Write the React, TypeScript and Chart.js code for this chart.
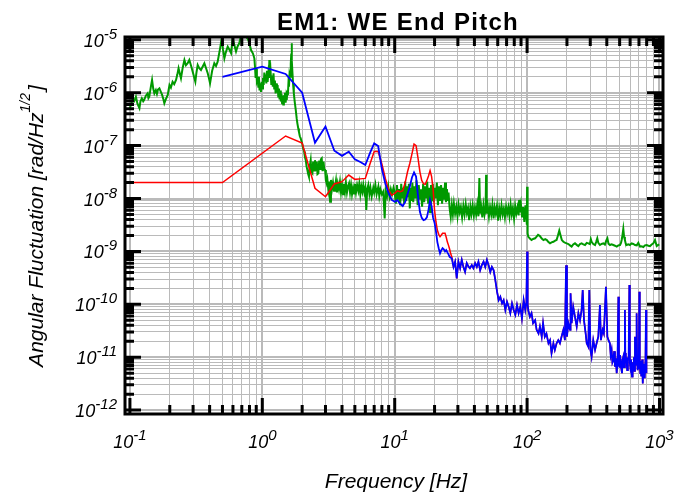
import { useEffect, useRef } from 'react';
import { Chart, registerables } from 'chart.js';

Chart.register(...registerables);

type Pt = [number, number]; // [frequency Hz, amplitude rad/√Hz]

// Blue trace, 0.5 Hz bins up to ~27 Hz
const blueLow: Pt[] = [
  [0.5, 2.0e-6], [1.0, 3.1e-6], [1.5, 2.26e-6], [2.0, 1.0e-6], [2.5, 1.13e-7], [3.0, 2.3e-7],
  [3.5, 8.0e-8], [4.0, 6.4e-8], [4.5, 7.7e-8], [5.0, 5.5e-8], [5.5, 4.9e-8], [6.0, 4.3e-8],
  [6.5, 7.2e-8], [7.0, 1.1e-7], [7.5, 9.8e-8], [8.0, 3.6e-8], [8.5, 1.9e-8], [9.0, 1.25e-8],
  [9.5, 9.4e-9], [10.0, 8.7e-9], [10.5, 9.3e-9], [11.0, 7.9e-9], [11.5, 7.2e-9], [12.0, 8.6e-9],
  [12.5, 1.2e-8], [13.0, 1.67e-8], [13.5, 2.5e-8], [14.0, 3.1e-8], [14.5, 2.6e-8], [15.0, 1.1e-8],
  [15.5, 5.6e-9], [16.0, 4.3e-9], [16.5, 3.9e-9], [17.0, 4.0e-9], [17.5, 4.4e-9], [18.0, 6.1e-9],
  [18.5, 9.4e-9], [19.0, 7.2e-9], [19.5, 4.3e-9], [20.0, 3.5e-9], [20.5, 2.4e-9], [21.0, 1.5e-9],
  [21.5, 1.15e-9], [22.0, 9.2e-10], [22.5, 1.06e-9], [23.0, 1.15e-9], [23.5, 1.1e-9], [24.0, 1.0e-9],
  [24.5, 1.06e-9], [25.0, 9.6e-10], [25.5, 8.8e-10], [26.0, 7.9e-10], [26.5, 7.6e-10], [27.0, 7.4e-10],
];

// Red trace, same bins, below ~27 Hz
const redLow: Pt[] = [
  [0.1, 2.0e-8], [0.5, 2.0e-8], [1.5, 1.52e-7], [2.0, 1.12e-7], [2.5, 1.56e-8], [3.0, 1.08e-8],
  [3.5, 1.88e-8], [4.0, 2.08e-8], [4.5, 2.78e-8], [5.0, 2.3e-8], [5.5, 2.35e-8], [6.0, 2.4e-8],
  [6.5, 4.5e-8], [7.0, 7.7e-8], [7.5, 7.7e-8], [8.0, 4.5e-8], [8.5, 2.4e-8], [9.0, 1.45e-8],
  [9.5, 1.15e-8], [10.0, 1.25e-8], [10.5, 1.4e-8], [11.0, 1.35e-8], [11.5, 1.4e-8], [12.0, 2.0e-8],
  [12.5, 3.2e-8], [13.0, 4.6e-8], [13.5, 7.0e-8], [14.0, 1.07e-7], [14.5, 1.0e-7], [15.0, 5.8e-8],
  [15.5, 3.2e-8], [16.0, 2.2e-8], [16.5, 1.9e-8], [17.0, 1.85e-8], [17.5, 2.2e-8], [18.0, 2.66e-8],
  [18.5, 3.36e-8], [19.0, 2.6e-8], [19.5, 1.5e-8], [20.0, 6.0e-9], [20.5, 3.6e-9], [21.0, 2.5e-9],
  [21.5, 2.1e-9], [22.0, 1.9e-9], [22.5, 2.04e-9], [23.0, 2.2e-9], [23.5, 2.2e-9], [24.0, 2.2e-9],
  [24.5, 1.85e-9], [25.0, 1.5e-9], [25.5, 1.3e-9], [26.0, 1.1e-9], [26.5, 9.0e-10], [27.0, 7.9e-10],
];

// Above ~28 Hz the red and blue traces coincide
const tailBoth: Pt[] = [
  [27.8, 5.1e-10], [28.6, 6.4e-10], [29.4, 3.1e-10], [30.3, 6.4e-10], [31.2, 4.8e-10], [32.1, 6.9e-10],
  [33.0, 5.1e-10], [34.0, 4.1e-10], [35.0, 6.0e-10], [36.0, 5.2e-10], [37.0, 4.8e-10], [38.2, 5.5e-10],
  [39.3, 4.8e-10], [40.5, 6.0e-10], [41.7, 5.1e-10], [42.9, 6.4e-10], [44.2, 4.4e-10], [45.5, 5.5e-10],
  [46.9, 6.4e-10], [48.3, 5.1e-10], [49.7, 6.9e-10], [51.2, 5.5e-10], [52.7, 4.1e-10], [54.2, 5.1e-10],
  [55.9, 4.4e-10], [57.5, 2.9e-10], [59.3, 1.73e-10], [61.0, 1.2e-10], [62.8, 1.39e-10], [64.7, 1.04e-10],
  [66.5, 1.2e-10], [68.5, 7.8e-11], [70.5, 1.12e-10], [72.6, 9.0e-11], [74.7, 6.8e-11], [76.9, 1.04e-10],
  [79.2, 7.8e-11], [81.5, 6.3e-11], [83.9, 9.7e-11], [86.3, 6.8e-11], [88.9, 9.0e-11], [91.4, 5.4e-11],
  [94.2, 1.2e-10], [96.9, 7.8e-11], [98.8, 1.1e-10], [100, 1.0e-9], [101, 1.0e-10], [102, 7.8e-11],
  [105, 5.8e-11], [108, 6.8e-11], [111, 4.4e-11], [115, 5.0e-11], [118, 3.3e-11], [122, 2.8e-11],
  [125, 3.8e-11], [129, 2.44e-11], [132, 4.4e-11], [136, 2.44e-11], [140, 2.8e-11], [145, 1.83e-11],
  [149, 2.1e-11], [153, 1.19e-11], [158, 1.83e-11], [162, 1.37e-11], [167, 1.83e-11], [172, 2.1e-11],
  [177, 1.83e-11], [182, 2.44e-11], [188, 3.3e-11], [193, 2.1e-11], [197, 5.5e-10], [200, 2.44e-11],
  [205, 4.4e-11], [211, 3.3e-11], [213, 1.61e-10], [217, 4.4e-11], [223, 9.0e-11], [230, 5.8e-11],
  [237, 3.8e-11], [244, 6.8e-11], [251, 5.0e-11], [258, 7.8e-11], [263, 1.86e-10], [269, 5.0e-11],
  [277, 2.8e-11], [282, 1.83e-11], [290, 1.58e-11], [295, 1.86e-10], [301, 1.37e-11], [307, 1.02e-11],
  [316, 2.1e-11], [326, 1.37e-11], [335, 1.83e-11], [345, 2.44e-11], [355, 9.7e-11], [361, 2.1e-11],
  [372, 3.3e-11], [380, 2.8e-11], [394, 2.15e-10], [404, 2.44e-11], [412, 2.1e-11], [422, 1.83e-11],
  [428, 1.1e-11], [435, 1.37e-11], [441, 8.0e-12], [448, 8.9e-12], [455, 1.3e-11], [461, 6.6e-12],
  [468, 9.5e-12], [475, 5.0e-12], [482, 8.0e-12], [489, 1.39e-10], [494, 7.0e-12], [498, 6.6e-12],
  [503, 1.1e-11], [509, 8.9e-12], [515, 6.0e-12], [521, 5.0e-12], [527, 9.0e-12], [533, 1.02e-11],
  [540, 6.5e-12], [548, 7.8e-11], [552, 1.2e-11], [557, 7.7e-12], [563, 1.0e-11], [570, 5.7e-12],
  [577, 8.5e-12], [585, 1.02e-11], [592, 2.32e-10], [597, 8.0e-12], [602, 6.6e-12], [610, 9.0e-12],
  [620, 4.3e-12], [627, 8.0e-12], [634, 6.6e-12], [641, 1.0e-11], [647, 5.5e-12], [653, 2.44e-11],
  [659, 7.0e-12], [665, 1.19e-11], [672, 6.8e-11], [678, 8.0e-12], [684, 5.7e-12], [692, 9.0e-12],
  [698, 6.0e-12], [704, 1.73e-10], [710, 7.0e-12], [716, 5.0e-12], [722, 8.5e-12], [728, 4.5e-12],
  [733, 6.6e-12], [740, 9.0e-12], [745, 5.0e-12], [750, 3.2e-12], [757, 7.5e-12], [765, 5.7e-12],
  [771, 4.0e-12], [777, 4.3e-12], [784, 9.0e-12], [791, 7.8e-11], [795, 6.0e-12], [800, 5.0e-12],
];

// Green trace, 0.1 – 1.75 Hz
const greenLow: Pt[] = [
  [0.100, 5.1e-7], [0.103, 6.5e-7], [0.105, 7.8e-7], [0.108, 7.0e-7], [0.111, 8.4e-7], [0.114, 6.2e-7],
  [0.118, 5.1e-7], [0.120, 6.8e-7], [0.123, 7.8e-7], [0.126, 6.9e-7], [0.128, 7.3e-7], [0.132, 8.8e-7],
  [0.136, 9.7e-7], [0.138, 7.9e-7], [0.140, 8.4e-7], [0.144, 1.3e-6], [0.147, 1.74e-6], [0.150, 1.2e-6],
  [0.153, 9.7e-7], [0.157, 1.12e-6], [0.160, 9.5e-7], [0.163, 1.15e-6], [0.167, 1.21e-6], [0.171, 1.05e-6],
  [0.175, 9.1e-7], [0.179, 7.5e-7], [0.182, 6.3e-7], [0.187, 7.6e-7], [0.193, 9.1e-7], [0.199, 1.4e-6],
  [0.204, 1.25e-6], [0.210, 1.61e-6], [0.216, 1.45e-6], [0.223, 1.74e-6], [0.228, 2.2e-6], [0.233, 2.89e-6],
  [0.238, 2.3e-6], [0.243, 1.87e-6], [0.250, 2.9e-6], [0.258, 4.15e-6], [0.265, 3.3e-6], [0.273, 3.6e-6],
  [0.281, 4.15e-6], [0.290, 3.2e-6], [0.298, 2.5e-6], [0.305, 2.0e-6], [0.312, 1.61e-6], [0.318, 2.4e-6],
  [0.325, 3.34e-6], [0.334, 2.9e-6], [0.344, 2.69e-6], [0.354, 3.1e-6], [0.365, 3.6e-6], [0.376, 2.9e-6],
  [0.387, 2.33e-6], [0.395, 1.9e-6], [0.403, 1.51e-6], [0.418, 2.6e-6], [0.434, 3.6e-6], [0.447, 3.2e-6],
  [0.460, 3.86e-6], [0.470, 5.2e-6], [0.480, 6.9e-6], [0.493, 1.05e-5], [0.505, 6.5e-6], [0.517, 4.47e-6],
  [0.530, 5.8e-6], [0.548, 7.4e-6], [0.565, 6.5e-6], [0.581, 5.6e-6], [0.597, 1.05e-5], [0.615, 8.0e-6],
  [0.633, 6.0e-6], [0.650, 7.5e-6], [0.670, 8.6e-6], [0.690, 1.2e-5], [0.720, 1.3e-5], [0.750, 1.15e-5],
  [0.776, 1.05e-5], [0.800, 8.5e-6], [0.822, 6.4e-6], [0.850, 5.5e-6], [0.871, 4.47e-6], [0.881, 3.0e-6],
  [0.890, 1.9e-6], [0.900, 2.8e-6], [0.910, 1.6e-6], [0.923, 1.74e-6], [0.933, 1.3e-6], [0.943, 2.0e-6],
  [0.953, 1.1e-6], [0.965, 1.5e-6], [0.977, 1.04e-6], [0.989, 1.6e-6], [1.000, 1.2e-6], [1.012, 1.9e-6],
  [1.024, 1.4e-6], [1.036, 2.4e-6], [1.048, 1.7e-6], [1.060, 2.2e-6], [1.072, 1.5e-6], [1.085, 2.6e-6],
  [1.097, 1.6e-6], [1.110, 2.3e-6], [1.122, 1.9e-6], [1.130, 4.15e-6], [1.140, 2.0e-6], [1.155, 2.5e-6],
  [1.170, 1.4e-6], [1.185, 2.1e-6], [1.200, 1.3e-6], [1.215, 2.33e-6], [1.230, 1.2e-6], [1.245, 1.7e-6],
  [1.260, 9.7e-7], [1.275, 1.5e-6], [1.290, 1.0e-6], [1.305, 1.4e-6], [1.320, 8.5e-7], [1.335, 1.2e-6],
  [1.350, 7.5e-7], [1.365, 1.1e-6], [1.380, 6.8e-7], [1.395, 9.5e-7], [1.410, 6.3e-7], [1.425, 8.8e-7],
  [1.440, 6.0e-7], [1.455, 9.0e-7], [1.470, 7.0e-7], [1.485, 1.0e-6], [1.500, 6.5e-7], [1.515, 8.5e-7],
  [1.530, 7.3e-7], [1.545, 1.1e-6], [1.560, 9.0e-7], [1.575, 1.51e-6], [1.590, 1.3e-6], [1.605, 2.2e-6],
  [1.620, 2.0e-6], [1.640, 3.5e-6], [1.655, 5.5e-6], [1.665, 8.6e-6], [1.675, 4.0e-6], [1.690, 2.33e-6],
  [1.710, 1.4e-6], [1.730, 9.7e-7],
];

// Green trace, 1.75 – 10 Hz
const greenMid: Pt[] = [
  [1.76, 6.5e-7], [1.79, 4.7e-7], [1.82, 3.2e-7], [1.84, 2.64e-7], [1.87, 2.1e-7], [1.89, 1.83e-7],
  [1.92, 1.5e-7], [1.95, 1.37e-7], [1.98, 1.2e-7], [2.00, 1.1e-7], [2.03, 9.0e-8], [2.07, 7.7e-8],
  [2.10, 6.0e-8], [2.13, 5.3e-8], [2.16, 4.0e-8], [2.19, 3.46e-8], [2.22, 2.9e-8], [2.25, 2.58e-8],
  [2.28, 4.0e-8], [2.32, 5.3e-8], [2.35, 3.2e-8], [2.39, 3.0e-8], [2.42, 5.0e-8], [2.46, 3.4e-8],
  [2.50, 5.3e-8], [2.54, 3.3e-8], [2.58, 5.0e-8], [2.61, 2.9e-8], [2.65, 3.0e-8], [2.69, 5.2e-8],
  [2.73, 3.6e-8], [2.77, 5.5e-8], [2.81, 5.75e-8], [2.85, 3.3e-8], [2.90, 5.0e-8], [2.94, 3.5e-8],
  [2.98, 3.46e-8], [3.02, 2.2e-8], [3.06, 1.94e-8], [3.10, 2.3e-8], [3.15, 1.5e-8], [3.20, 2.1e-8],
  [3.25, 8.7e-9], [3.30, 2.24e-8], [3.36, 1.5e-8], [3.42, 2.0e-8], [3.48, 1.4e-8], [3.54, 1.67e-8],
  [3.60, 2.2e-8], [3.66, 1.3e-8], [3.72, 1.9e-8], [3.79, 1.5e-8], [3.86, 2.08e-8], [3.93, 1.3e-8],
  [4.00, 1.8e-8], [4.07, 1.2e-8], [4.14, 1.9e-8], [4.21, 1.35e-8], [4.28, 2.0e-8], [4.36, 1.3e-8],
  [4.44, 1.7e-8], [4.52, 1.94e-8], [4.60, 1.3e-8], [4.68, 1.8e-8], [4.76, 1.2e-8], [4.85, 1.6e-8],
  [4.93, 1.25e-8], [5.01, 1.9e-8], [5.10, 1.3e-8], [5.20, 1.8e-8], [5.31, 1.4e-8], [5.40, 1.9e-8],
  [5.50, 1.2e-8], [5.60, 1.7e-8], [5.70, 1.35e-8], [5.79, 1.8e-8], [5.90, 1.3e-8], [6.00, 1.6e-8],
  [6.10, 6.1e-9], [6.20, 1.5e-8], [6.32, 1.8e-8], [6.44, 1.2e-8], [6.56, 1.6e-8], [6.70, 1.1e-8],
  [6.89, 1.6e-8], [7.00, 1.3e-8], [7.15, 1.8e-8], [7.30, 1.2e-8], [7.52, 1.67e-8], [7.65, 1.1e-8],
  [7.80, 1.5e-8], [8.00, 1.2e-8], [8.20, 1.35e-8], [8.40, 4.2e-9], [8.55, 1.4e-8], [8.75, 1.1e-8],
  [8.95, 1.67e-8], [9.15, 1.1e-8], [9.35, 1.5e-8], [9.55, 1.2e-8], [9.80, 1.6e-8], [10.0, 1.3e-8],
];

// Green trace, 10 – 101 Hz (noise floor band)
const greenBand: Pt[] = [
  [10.2, 8.0e-9], [10.4, 1.8e-8], [10.6, 9.5e-9], [10.8, 1.5e-8], [11.0, 7.5e-9], [11.2, 1.9e-8],
  [11.4, 1.0e-8], [11.6, 1.6e-8], [11.8, 8.0e-9], [12.0, 2.1e-8], [12.2, 9.0e-9], [12.4, 1.7e-8],
  [12.6, 1.05e-8], [12.8, 1.9e-8], [13.0, 6.5e-9], [13.2, 1.6e-8], [13.4, 9.0e-9], [13.6, 2.0e-8],
  [13.8, 8.5e-9], [14.0, 1.7e-8], [14.3, 1.0e-8], [14.6, 2.2e-8], [14.9, 7.5e-9], [15.2, 1.8e-8],
  [15.5, 9.5e-9], [15.8, 1.5e-8], [16.1, 7.0e-9], [16.4, 1.9e-8], [16.7, 8.5e-9], [17.0, 1.7e-8],
  [17.3, 1.0e-8], [17.6, 2.1e-8], [17.9, 8.0e-9], [18.2, 1.6e-8], [18.5, 5.5e-9], [18.8, 1.8e-8],
  [19.1, 9.0e-9], [19.4, 1.9e-8], [19.7, 8.5e-9], [20.0, 1.6e-8], [20.4, 1.0e-8], [20.8, 2.0e-8],
  [21.2, 7.5e-9], [21.6, 1.7e-8], [22.0, 9.0e-9], [22.4, 1.8e-8], [22.8, 8.0e-9], [23.2, 1.6e-8],
  [23.6, 9.5e-9], [24.0, 2.0e-8], [24.4, 8.5e-9], [24.8, 1.5e-8], [25.2, 9.0e-9], [25.5, 1.3e-8],
  [26.0, 6.5e-9], [26.5, 4.5e-9], [27.0, 7.5e-9], [27.5, 5.0e-9], [28.0, 8.0e-9], [28.6, 5.2e-9],
  [29.2, 7.0e-9], [29.8, 4.6e-9], [30.4, 7.6e-9], [31.0, 5.5e-9], [31.6, 6.9e-9], [32.3, 4.4e-9],
  [33.0, 7.2e-9], [33.7, 5.0e-9], [34.4, 7.8e-9], [35.1, 5.3e-9], [35.8, 6.6e-9], [36.5, 3.9e-9],
  [37.3, 7.0e-9], [38.0, 5.1e-9], [38.8, 7.4e-9], [39.6, 4.8e-9], [40.4, 6.8e-9], [41.2, 5.0e-9],
  [42.0, 7.6e-9], [42.9, 4.6e-9], [43.6, 2.45e-8], [44.2, 5.2e-9], [45.0, 7.0e-9], [45.9, 4.4e-9],
  [46.8, 7.4e-9], [47.7, 5.0e-9], [48.6, 6.6e-9], [49.0, 2.8e-8], [49.5, 5.2e-9], [50.5, 7.2e-9],
  [51.5, 4.6e-9], [52.5, 6.9e-9], [53.6, 5.0e-9], [54.7, 7.6e-9], [55.8, 4.2e-9], [56.9, 6.8e-9],
  [58.0, 5.2e-9], [59.2, 7.2e-9], [60.4, 3.8e-9], [61.6, 6.6e-9], [62.8, 4.8e-9], [64.1, 7.4e-9],
  [65.4, 5.0e-9], [66.7, 6.4e-9], [68.0, 4.4e-9], [69.4, 7.0e-9], [70.8, 5.2e-9], [72.2, 6.8e-9],
  [73.6, 4.6e-9], [75.1, 7.6e-9], [76.6, 5.0e-9], [78.1, 6.6e-9], [79.7, 4.2e-9], [81.3, 7.2e-9],
  [82.9, 5.2e-9], [84.6, 6.8e-9], [86.3, 4.8e-9], [87.0, 9.4e-9], [88.0, 5.5e-9], [89.8, 7.8e-9],
  [91.6, 4.4e-9], [93.4, 6.9e-9], [95.3, 3.6e-9], [97.2, 7.4e-9], [98.8, 5.0e-9], [99.5, 3.2e-9],
  [100.0, 1.67e-8], [100.6, 4.0e-9], [101.2, 2.2e-9],
];

// Green trace, 102 – 1000 Hz
const greenHigh: Pt[] = [
  [102, 1.9e-9], [105, 1.75e-9], [108, 1.64e-9], [111, 1.72e-9], [115, 1.77e-9], [118, 1.9e-9],
  [121, 2.05e-9], [125, 1.95e-9], [129, 1.75e-9], [133, 1.64e-9], [137, 1.7e-9], [141, 1.64e-9],
  [145, 1.5e-9], [149, 1.42e-9], [153, 1.48e-9], [158, 1.52e-9], [163, 1.6e-9], [167, 1.64e-9],
  [171, 2.0e-9], [175, 2.47e-9], [179, 2.0e-9], [183, 1.64e-9], [188, 1.52e-9], [193, 1.46e-9],
  [199, 1.42e-9], [205, 1.38e-9], [211, 1.3e-9], [217, 1.23e-9], [223, 1.35e-9], [230, 1.42e-9],
  [237, 1.33e-9], [244, 1.26e-9], [251, 1.38e-9], [258, 1.42e-9], [266, 1.36e-9], [274, 1.32e-9],
  [282, 1.45e-9], [290, 1.42e-9], [298, 1.38e-9], [303, 1.7e-9], [307, 1.52e-9], [316, 1.38e-9],
  [326, 1.32e-9], [332, 1.5e-9], [339, 1.77e-9], [345, 1.45e-9], [355, 1.32e-9], [365, 1.38e-9],
  [377, 1.42e-9], [387, 1.35e-9], [396, 1.6e-9], [404, 1.77e-9], [412, 1.4e-9], [423, 1.32e-9],
  [435, 1.36e-9], [448, 1.32e-9], [461, 1.28e-9], [475, 1.23e-9], [489, 1.3e-9], [503, 1.32e-9],
  [512, 1.45e-9], [518, 1.64e-9], [525, 2.0e-9], [533, 2.65e-9], [540, 1.9e-9], [548, 1.64e-9],
  [556, 1.4e-9], [565, 1.32e-9], [581, 1.36e-9], [598, 1.32e-9], [616, 1.42e-9], [634, 1.38e-9],
  [653, 1.32e-9], [673, 1.3e-9], [692, 1.45e-9], [713, 1.23e-9], [735, 1.25e-9], [755, 1.21e-9],
  [777, 1.3e-9], [800, 1.32e-9], [824, 1.28e-9], [848, 1.26e-9], [873, 1.35e-9], [898, 1.42e-9],
  [925, 1.64e-9], [953, 1.26e-9], [975, 1.32e-9], [996, 1.36e-9],
];

// Axis decades (tick labels are 10^d) and the minor multipliers in each decade
const xDecades = [-1, 0, 1, 2, 3];
const yDecades = [-12, -11, -10, -9, -8, -7, -6, -5];
const minorSteps = [2, 3, 4, 5, 6, 7, 8, 9];

const X_MIN = 0.0918;
const X_MAX = 1063;
const Y_MIN = 8.44e-13;
const Y_MAX = 1.13e-5;

const FONT = '"Liberation Sans", Arial, Helvetica, sans-serif';

type Tick = { value: number; major: boolean };

function logTicks(decades: number[], lo: number, hi: number): Tick[] {
  const out: Tick[] = [];
  decades.forEach((d) => {
    const base = Math.pow(10, d);
    out.push({ value: base, major: true });
    minorSteps.forEach((m) => out.push({ value: m * base, major: false }));
  });
  return out.filter((t) => t.value >= lo && t.value <= hi);
}

const xTicks = logTicks(xDecades, X_MIN, X_MAX);
const yTicks = logTicks(yDecades, Y_MIN, Y_MAX);

const toXY = (pts: Pt[]) => pts.map(([x, y]) => ({ x, y }));

function drawPower(ctx: CanvasRenderingContext2D, exp: string, x: number, baseY: number, align: 'center' | 'right') {
  ctx.font = `italic 18px ${FONT}`;
  const wb = ctx.measureText('10').width;
  ctx.font = `italic 15px ${FONT}`;
  const we = ctx.measureText(exp).width;
  const total = wb + we;
  const left = align === 'center' ? x - total / 2 : x - total;
  ctx.textAlign = 'left';
  ctx.textBaseline = 'alphabetic';
  ctx.font = `italic 18px ${FONT}`;
  ctx.fillText('10', left, baseY);
  ctx.font = `italic 15px ${FONT}`;
  ctx.fillText(exp, left + wb, baseY - 8);
}

const frameAndLabels = {
  id: 'frameAndLabels',
  afterDraw(chart: any) {
    const { ctx, chartArea: a } = chart;
    const xs = chart.scales.x;
    const ys = chart.scales.y;
    ctx.save();

    // inward tick marks on all four sides
    ctx.strokeStyle = '#000';
    ctx.lineWidth = 3;
    ctx.lineCap = 'butt';
    ctx.beginPath();
    xTicks.forEach((t) => {
      const px = xs.getPixelForValue(t.value);
      const len = t.major ? 16 : 9;
      ctx.moveTo(px, a.bottom);
      ctx.lineTo(px, a.bottom - len);
      ctx.moveTo(px, a.top);
      ctx.lineTo(px, a.top + len);
    });
    yTicks.forEach((t) => {
      const py = ys.getPixelForValue(t.value);
      const len = t.major ? 16 : 9;
      ctx.moveTo(a.left, py);
      ctx.lineTo(a.left + len, py);
      ctx.moveTo(a.right, py);
      ctx.lineTo(a.right - len, py);
    });
    ctx.stroke();

    // box
    ctx.strokeRect(a.left, a.top, a.right - a.left, a.bottom - a.top);

    // tick labels
    ctx.fillStyle = '#000';
    xDecades.forEach((d) => {
      drawPower(ctx, String(d), xs.getPixelForValue(Math.pow(10, d)), 448, 'center');
    });
    yDecades.forEach((d) => {
      drawPower(ctx, String(d), 117, ys.getPixelForValue(Math.pow(10, d)) + 7, 'right');
    });

    // title
    ctx.font = `bold 24px ${FONT}`;
    (ctx as any).letterSpacing = '1.3px';
    ctx.textAlign = 'center';
    ctx.fillText('EM1: WE End Pitch', 398, 30);
    (ctx as any).letterSpacing = '0px';

    // x axis title
    ctx.font = `italic 21px ${FONT}`;
    ctx.textAlign = 'center';
    ctx.fillText('Frequency [Hz]', (a.left + a.right) / 2 + 2, 488);

    // y axis title with superscript
    const mainA = 'Angular Fluctuation [rad/Hz';
    const sup = '1/2';
    const tail = ']';
    ctx.font = `italic 21px ${FONT}`;
    const wA = ctx.measureText(mainA).width;
    const wT = ctx.measureText(tail).width;
    ctx.font = `italic 14px ${FONT}`;
    const wS = ctx.measureText(sup).width;
    const total = wA + wS + wT + 2;
    ctx.translate(43, 226);
    ctx.rotate(-Math.PI / 2);
    ctx.textAlign = 'left';
    let cx = -total / 2;
    ctx.font = `italic 21px ${FONT}`;
    ctx.fillText(mainA, cx, 0);
    cx += wA;
    ctx.font = `italic 14px ${FONT}`;
    ctx.fillText(sup, cx, -13);
    cx += wS + 2;
    ctx.font = `italic 21px ${FONT}`;
    ctx.fillText(tail, cx, 0);

    ctx.restore();
  },
};

export default function App() {
  const canvasRef = useRef<HTMLCanvasElement | null>(null);

  useEffect(() => {
    const canvas = canvasRef.current;
    if (!canvas) return;

    const gridColor = '#bababa';
    const chart = new Chart(canvas, {
      type: 'line',
      data: {
        datasets: [
          {
            label: 'Pitch B',
            data: toXY([...blueLow, ...tailBoth]),
            borderColor: '#0000ff',
            borderWidth: 1.8,
            pointRadius: 0,
            tension: 0,
            clip: 0,
          },
          {
            label: 'Pitch R',
            data: toXY([...redLow, ...tailBoth]),
            borderColor: '#ff0000',
            borderWidth: 1.5,
            pointRadius: 0,
            tension: 0,
            clip: 0,
          },
          {
            label: 'Pitch G',
            data: toXY([...greenLow, ...greenMid, ...greenBand, ...greenHigh]),
            borderColor: '#009900',
            borderWidth: 2,
            pointRadius: 0,
            tension: 0,
            clip: 0,
          },
        ],
      },
      options: {
        animation: false,
        responsive: false,
        devicePixelRatio: 1,
        layout: { padding: { left: 125, top: 37, right: 16, bottom: 80 } },
        plugins: {
          legend: { display: false },
          title: { display: false },
          tooltip: { enabled: false },
        },
        scales: {
          x: {
            type: 'logarithmic',
            min: X_MIN,
            max: X_MAX,
            bounds: 'data',
            ticks: { display: false },
            border: { display: false },
            grid: {
              drawTicks: false,
              color: gridColor,
              lineWidth: (c: any) => (c.tick && c.tick.major ? 2 : 1),
            },
            afterBuildTicks: (s: any) => {
              s.ticks = xTicks.map((t) => ({ ...t }));
            },
            afterFit: (s: any) => {
              s.height = 0;
            },
          },
          y: {
            type: 'logarithmic',
            min: Y_MIN,
            max: Y_MAX,
            bounds: 'data',
            ticks: { display: false },
            border: { display: false },
            grid: {
              drawTicks: false,
              color: gridColor,
              lineWidth: (c: any) => (c.tick && c.tick.major ? 2 : 1),
            },
            afterBuildTicks: (s: any) => {
              s.ticks = yTicks.map((t) => ({ ...t }));
            },
            afterFit: (s: any) => {
              s.width = 0;
            },
          },
        },
      } as any,
      plugins: [frameAndLabels],
    });

    return () => chart.destroy();
  }, []);

  return (
    <div style={{ position: 'absolute', left: 0, top: 0, width: 679, height: 494, background: '#fff' }}>
      <canvas ref={canvasRef} width={679} height={494} style={{ display: 'block' }} />
    </div>
  );
}
